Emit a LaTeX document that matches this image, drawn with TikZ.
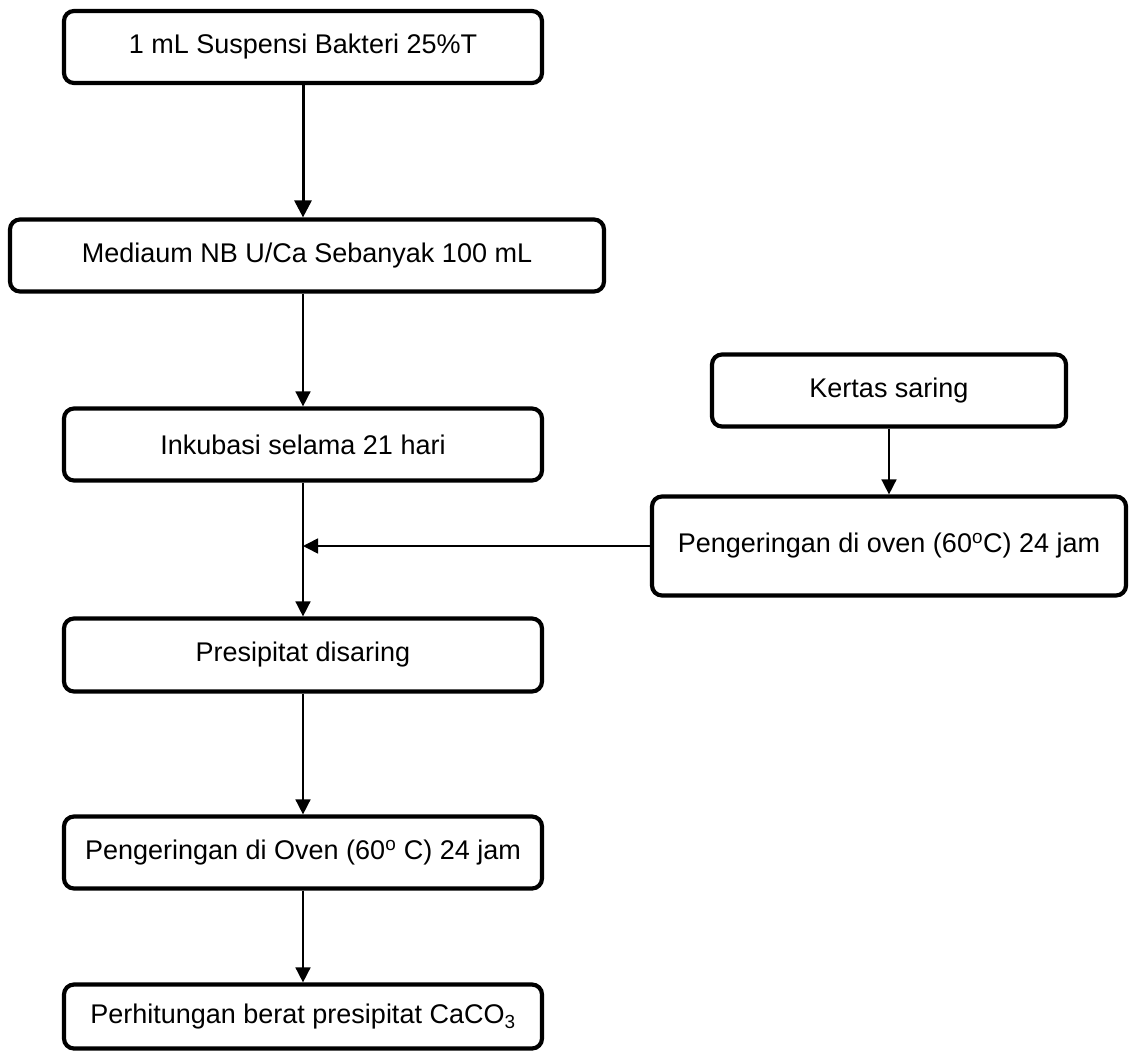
\documentclass[tikz,border=0pt]{standalone}
\usepackage{fontspec}
\setmainfont{Liberation Sans}
\usetikzlibrary{arrows.meta}
\tikzset{
  box/.style={draw, line width=4.2pt, rounded corners=10pt, inner sep=0pt, align=center,
    font=\fontsize{27}{30}\selectfont},
  thickarrow/.style={line width=3pt, -{Triangle[length=17pt,width=17pt]}},
  thinarrow/.style={line width=1.6pt, -{Triangle[length=15pt,width=15pt]}}
}
\begin{document}
\begin{tikzpicture}[x=1pt,y=-1pt]
\useasboundingbox (0,0) rectangle (1130,1054);
\node[box, minimum width=478pt, minimum height=72pt] (b1) at (303,47) {\raisebox{1.5pt}{1 mL Suspensi Bakteri 25\%T}};
\node[box, minimum width=594pt, minimum height=72pt] (b2) at (307,255.5) {Mediaum NB U/Ca Sebanyak 100 mL};
\node[box, minimum width=478pt, minimum height=72pt] (b3) at (303,444.5) {Inkubasi selama 21 hari};
\node[box, minimum width=354pt, minimum height=72pt] (b4) at (889,390.5) {Kertas saring};
\node[box, minimum width=474pt, minimum height=99pt] (b5) at (889,546) {Pengeringan di oven (60\textsuperscript{o}C) 24 jam};
\node[box, minimum width=478pt, minimum height=73pt] (b6) at (303,655) {Presipitat disaring};
\node[box, minimum width=478pt, minimum height=72pt] (b7) at (303,852.5) {Pengeringan di Oven (60\textsuperscript{o} C) 24 jam};
\node[box, minimum width=478pt, minimum height=64pt] (b8) at (303,1016.5) {Perhitungan berat presipitat CaCO\textsubscript{3}};
\coordinate (j) at (b3.south |- b5.west);
\draw[thickarrow] (b1.south) -- (b1.south |- b2.north);
\draw[thinarrow] (b1.south |- b2.south) -- (b3.north);
\draw[thinarrow] (b3.south) -- (b6.north);
\draw[thinarrow] (b5.west) -- (j);
\draw[thinarrow] (b4.south) -- (b5.north);
\draw[thinarrow] (b6.south) -- (b7.north);
\draw[thinarrow] (b7.south) -- (b8.north);
\end{tikzpicture}
\end{document}
